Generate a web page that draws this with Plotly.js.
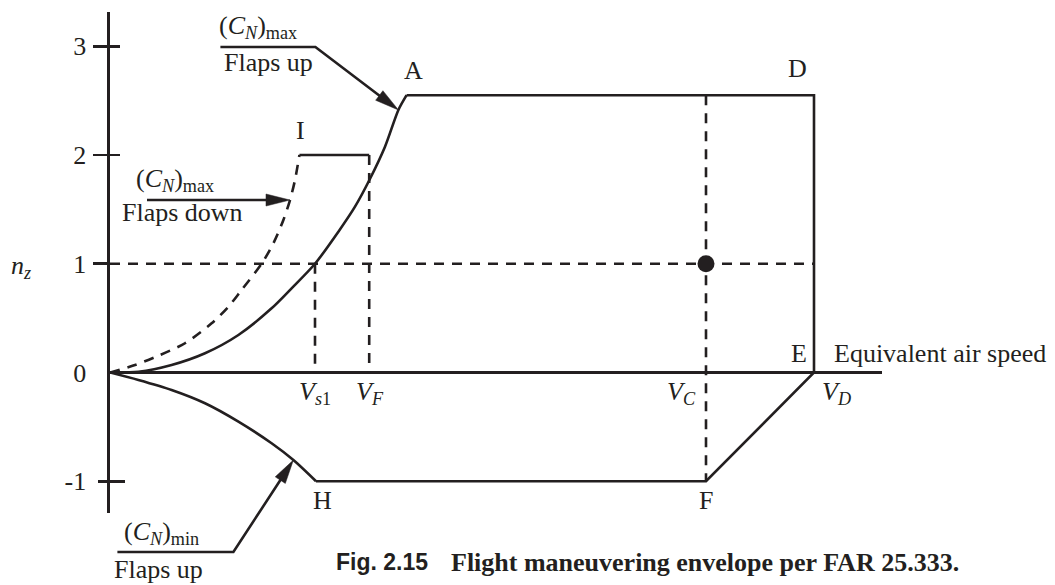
<!DOCTYPE html>
<html>
<head>
<meta charset="utf-8">
<script src="https://cdn.plot.ly/plotly-3.0.1.min.js"></script>
<style>
  html, body { margin: 0; padding: 0; background: #ffffff; }
  #chart { width: 1055px; height: 585px; }
</style>
</head>
<body>
<div id="chart"></div>
<script>
// Flight maneuvering envelope: load factor n_z against equivalent air speed

// Characteristic speeds on the equivalent-air-speed axis
const V_S1 = 102.5;
const V_F = 129.6;
const V_A = 148.3;
const V_C = 298;
const V_D = 352;

// Load-factor levels
const N_MAX = 2.55;
const N_FLAPS = 2;
const N_LEVEL = 1;
const N_MIN = -1;

// Positive stall boundary, (C_N)max flaps up: origin -> A
const stallUpV = [0, 14.2, 30.8, 47.5, 64.2, 80.8, 90.8, 102.5, 114.2, 122.5, 129.7, 137.5, 144.2, V_A];
const stallUpN = [0, 0.007, 0.069, 0.177, 0.345, 0.59, 0.774, 1.0, 1.295, 1.525, 1.77, 2.076, 2.414, N_MAX];

// Positive stall boundary, (C_N)max flaps down: origin -> I
const stallDownV = [0, 12.5, 24.2, 37.5, 50.8, 59.2, 65.8, 75.8, 81.7, 86.7, 90, 92.5, 94.7];
const stallDownN = [0, 0.069, 0.154, 0.269, 0.452, 0.605, 0.759, 1.0, 1.188, 1.402, 1.586, 1.77, N_FLAPS];

// Negative stall boundary, (C_N)min flaps up: origin -> H
const stallNegV = [0, 14.2, 30.8, 47.5, 64.2, 80.8, 91.7, 103];
const stallNegN = [0, -0.069, -0.161, -0.283, -0.452, -0.651, -0.805, N_MIN];

// Load-factor axis ticks
const yTickVals = [-1, 0, 1, 2, 3];
const yTickText = ['-1', '0', '1', '2', '3'];

// ---------------------------------------------------------------- styling
const INK = '#231f20';
const SERIF = '"Liberation Serif", "Times New Roman", Times, serif';
const SANS = '"Liberation Sans", Arial, Helvetica, sans-serif';
const LW = 2.6;
const DASH = '10px,8px';
const FS = 26;

const W = 1055, H = 585;
const M = { l: 110, r: 173, t: 12, b: 72 };
const X_RANGE = [0, 386];
const Y_RANGE = [-1.292, 3.315];
const plotW = W - M.l - M.r;
const plotH = H - M.t - M.b;

// data -> page pixels, page pixels -> paper fractions (used for the callouts)
const pxX = v => M.l + (v - X_RANGE[0]) / (X_RANGE[1] - X_RANGE[0]) * plotW;
const pxY = n => M.t + (Y_RANGE[1] - n) / (Y_RANGE[1] - Y_RANGE[0]) * plotH;
const paperX = px => (px - M.l) / plotW;
const paperY = py => (H - M.b - py) / plotH;

// ---------------------------------------------------------------- traces
const solid = { color: INK, width: LW };
const dashed = { color: INK, width: LW, dash: DASH };
const smooth = (style) => Object.assign({ shape: 'spline', smoothing: 0.8 }, style);
const lastOf = a => a[a.length - 1];

const traces = [
  // n = 1 level-flight line
  { x: [0, V_D], y: [N_LEVEL, N_LEVEL], mode: 'lines', line: dashed },
  // V_s1
  { x: [V_S1, V_S1], y: [N_LEVEL, 0], mode: 'lines', line: dashed },
  // V_F
  { x: [V_F, V_F], y: [N_FLAPS, 0], mode: 'lines', line: dashed },
  // V_C
  { x: [V_C, V_C], y: [N_MAX, N_MIN], mode: 'lines', line: dashed },
  // flaps-down stall curve
  { x: stallDownV, y: stallDownN, mode: 'lines', line: smooth(dashed) },
  // flaps-down limit I
  { x: [lastOf(stallDownV), V_F], y: [N_FLAPS, N_FLAPS], mode: 'lines', line: solid },
  // positive stall curve O-A
  { x: stallUpV, y: stallUpN, mode: 'lines', line: smooth(solid) },
  // negative stall curve O-H
  { x: stallNegV, y: stallNegN, mode: 'lines', line: smooth(solid) },
  // structural limits A-D-E-F-H
  {
    x: [V_A, V_D, V_D, V_C, lastOf(stallNegV)],
    y: [N_MAX, N_MAX, 0, N_MIN, N_MIN],
    mode: 'lines', line: solid
  },
  // cruise point at V_C, n = 1
  { x: [V_C], y: [N_LEVEL], mode: 'markers', marker: { size: 17, color: INK } }
];

// tick axes (crossing tick marks are built from an outside and an inside part)
function tickAxis(vals, side, len) {
  return {
    overlaying: 'y', anchor: 'x', side: 'left', range: Y_RANGE,
    tickmode: 'array', tickvals: vals, ticks: side, ticklen: len,
    tickwidth: LW, tickcolor: INK, showticklabels: false,
    showgrid: false, zeroline: false, showline: false, fixedrange: true
  };
}
['y2', 'y3', 'y4', 'y5'].forEach(ax => {
  traces.push({ x: [V_D], y: [N_MAX], yaxis: ax, mode: 'lines', line: { width: 0 } });
});
traces.forEach(t => { t.showlegend = false; t.hoverinfo = 'skip'; });

// ---------------------------------------------------------------- labels
const annotations = [];
const shapes = [];

function label(text, x, y, xshift, yshift, extra) {
  annotations.push(Object.assign({
    text, x, y, xref: 'x', yref: 'y', showarrow: false,
    xanchor: 'center', yanchor: 'middle', xshift, yshift,
    font: { family: SERIF, size: FS, color: INK }
  }, extra || {}));
}

function paperLabel(text, px, py, extra) {
  annotations.push(Object.assign({
    text, x: paperX(px), y: paperY(py), xref: 'paper', yref: 'paper',
    showarrow: false, xanchor: 'left', yanchor: 'middle',
    font: { family: SERIF, size: FS, color: INK }
  }, extra || {}));
}

// corner letters
label('A', V_A, N_MAX, 7, 25);
label('D', V_D, N_MAX, -17, 27);
label('E', V_D, 0, -15, 19);
label('F', V_C, N_MIN, 0, -19);
label('H', lastOf(stallNegV), N_MIN, 6, -19);
label('I', lastOf(stallDownV), N_FLAPS, 1, 25);

// speed labels
label('<i>V</i><sub><i>s</i>1</sub>', V_S1, 0, 0, -20);
label('<i>V</i><sub><i>F</i></sub>', V_F, 0, 1, -20);
label('<i>V</i><sub><i>C</i></sub>', V_C, 0, -25, -20);
label('<i>V</i><sub><i>D</i></sub>', V_D, 0, 22, -20);
label('Equivalent air speed', V_D, 0, 18, 19, { xanchor: 'left' });
label('<i>n</i><sub><i>z</i></sub>', 0, N_LEVEL, -89, -3);

// pointer callouts: tip on a curve, elbow offset (px), underline length (px)
const CN_MAX = '(<i>C</i><sub><i>N</i></sub>)<sub>max</sub>';
const CN_MIN = '(<i>C</i><sub><i>N</i></sub>)<sub>min</sub>';
const callouts = [
  { tip: [stallUpV[12], stallUpN[12]], elbow: [-83, -63], bar: 95,
    upper: CN_MAX, lower: 'Flaps up', upperAt: [-3, -20], lowerAt: [2, 16] },
  { tip: [stallDownV[10], stallDownN[10]], elbow: [0, 0], bar: 143,
    upper: CN_MAX, lower: 'Flaps down', upperAt: [-13, -20], lowerAt: [-27, 12] },
  { tip: [stallNegV[6], stallNegN[6]], elbow: [-60, 92], bar: 116,
    upper: CN_MIN, lower: 'Flaps up', upperAt: [5, -19], lowerAt: [-5, 17] }
];

const HEAD_LEN = 24, HEAD_HALF = 6;
callouts.forEach(c => {
  const tx = pxX(c.tip[0]), ty = pxY(c.tip[1]);
  const ex = tx + c.elbow[0], ey = ty + c.elbow[1];
  const sx = ex - c.bar, sy = ey;
  // arrow direction from the last non-zero segment
  let dx = tx - ex, dy = ty - ey;
  if (Math.hypot(dx, dy) < 1) { dx = tx - sx; dy = ty - sy; }
  const len = Math.hypot(dx, dy);
  const ux = dx / len, uy = dy / len;
  const bx = tx - ux * HEAD_LEN, by = ty - uy * HEAD_LEN;
  const P = (x, y) => paperX(x).toFixed(5) + ',' + paperY(y).toFixed(5);

  let path = 'M' + P(sx, sy);
  if (Math.hypot(c.elbow[0], c.elbow[1]) >= 1) path += ' L' + P(ex, ey);
  path += ' L' + P(bx + ux * 2, by + uy * 2);
  shapes.push({ type: 'path', xref: 'paper', yref: 'paper', path,
    line: { color: INK, width: LW }, fillcolor: 'rgba(0,0,0,0)' });

  const head = 'M' + P(tx, ty) +
    ' L' + P(bx - uy * HEAD_HALF, by + ux * HEAD_HALF) +
    ' L' + P(bx + uy * HEAD_HALF, by - ux * HEAD_HALF) + ' Z';
  shapes.push({ type: 'path', xref: 'paper', yref: 'paper', path: head,
    line: { color: INK, width: 0.5 }, fillcolor: INK });

  paperLabel(c.upper, sx + c.upperAt[0], sy + c.upperAt[1]);
  paperLabel(c.lower, sx + c.lowerAt[0], sy + c.lowerAt[1]);
});

// figure caption
paperLabel('<b>Fig. 2.15</b>', 334, 562, { font: { family: SANS, size: 23, color: INK } });
paperLabel('<b>Flight maneuvering envelope per FAR 25.333.</b>', 449, 562,
  { font: { family: SERIF, size: FS, color: INK } });

// ---------------------------------------------------------------- layout
const layout = {
  width: W, height: H, autosize: false,
  margin: { l: M.l, r: M.r, t: M.t, b: M.b, pad: 0 },
  paper_bgcolor: '#ffffff', plot_bgcolor: '#ffffff',
  showlegend: false,
  font: { family: SERIF, size: FS, color: INK },
  xaxis: {
    range: X_RANGE, showgrid: false, zeroline: false, showline: false,
    showticklabels: false, ticks: '', fixedrange: true
  },
  yaxis: {
    range: Y_RANGE, showgrid: false,
    zeroline: true, zerolinecolor: INK, zerolinewidth: LW,
    showline: true, linecolor: INK, linewidth: LW,
    tickmode: 'array', tickvals: yTickVals, ticktext: yTickText,
    ticks: 'outside', ticklen: 16, tickwidth: LW, tickcolor: 'rgba(0,0,0,0)',
    tickfont: { family: SERIF, size: FS, color: INK }, fixedrange: true
  },
  yaxis2: tickAxis([1, 2, 3], 'outside', 16),
  yaxis3: tickAxis([2, 3], 'inside', 10),
  yaxis4: tickAxis([-1], 'outside', 11),
  yaxis5: tickAxis([-1], 'inside', 15),
  annotations,
  shapes
};

Plotly.newPlot('chart', traces, layout, { staticPlot: true, displayModeBar: false });
</script>
</body>
</html>
